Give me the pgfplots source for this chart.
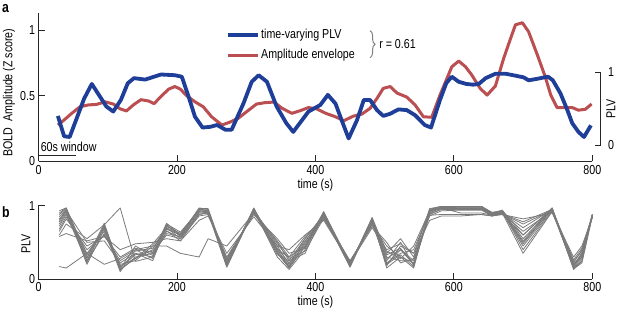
\documentclass[border=0pt]{standalone}
\usepackage{pgfplots}
\pgfplotsset{compat=1.18}
\usepackage{pgfplotstable}
\usepackage{fontspec}
\setmainfont{Liberation Sans}[FakeStretch=0.82]
\usetikzlibrary{decorations.pathreplacing}
\definecolor{plvblue}{RGB}{30,62,152}
\definecolor{ampred}{RGB}{186,78,80}
\definecolor{tracegray}{RGB}{122,122,122}
\newcommand{\ff}{\fontsize{13bp}{15bp}\selectfont}

\pgfplotstableread{
t   l1   l2   l3   l4   l5   l6   l7   l8   l9   l10  l11  l12  l13  l14
30  0.93 0.88 0.85 0.80 0.78 0.75 0.72 0.68 0.65 0.58 0.60 0.17 0.82 0.90
40  0.97 0.96 0.95 0.94 0.92 0.90 0.88 0.85 0.82 0.62 0.75 0.15 0.93 0.97
70  0.22 0.25 0.30 0.20 0.35 0.28 0.24 0.40 0.45 0.52 0.55 0.35 0.50 0.33
95  0.74 0.72 0.70 0.68 0.65 0.76 0.62 0.60 0.58 0.58 0.74 0.20 0.52 0.70
118 0.12 0.15 0.18 0.10 0.20 0.14 0.16 0.25 0.30 0.40 0.97 0.28 0.22 0.13
140 0.30 0.35 0.28 0.40 0.25 0.45 0.33 0.38 0.42 0.48 0.24 0.40 0.35 0.28
165 0.35 0.30 0.40 0.28 0.45 0.32 0.38 0.42 0.36 0.50 0.30 0.45 0.25 0.48
185 0.76 0.74 0.72 0.70 0.68 0.75 0.62 0.66 0.60 0.55 0.65 0.45 0.72 0.70
205 0.60 0.58 0.62 0.55 0.60 0.64 0.58 0.52 0.55 0.52 0.57 0.35 0.62 0.60
232 0.97 0.95 0.93 0.90 0.96 0.94 0.91 0.88 0.86 0.80 0.88 0.30 0.92 0.95
245 0.95 0.93 0.92 0.90 0.96 0.94 0.93 0.91 0.88 0.86 0.90 0.55 0.90 0.94
272 0.18 0.20 0.22 0.16 0.25 0.19 0.21 0.28 0.30 0.35 0.26 0.45 0.23 0.17
311 0.97 0.96 0.95 0.94 0.93 0.96 0.92 0.90 0.88 0.85 0.91 0.90 0.94 0.95
345 0.35 0.40 0.45 0.30 0.50 0.38 0.42 0.52 0.55 0.45 0.48 0.40 0.33 0.36
362 0.15 0.18 0.20 0.13 0.25 0.17 0.22 0.30 0.35 0.40 0.28 0.30 0.25 0.16
385 0.45 0.50 0.55 0.40 0.35 0.48 0.52 0.58 0.42 0.60 0.38 0.45 0.55 0.44
412 0.92 0.90 0.88 0.91 0.89 0.86 0.84 0.82 0.85 0.80 0.83 0.86 0.87 0.90
450 0.18 0.20 0.17 0.22 0.19 0.21 0.20 0.24 0.25 0.22 0.23 0.18 0.16 0.19
482 0.83 0.80 0.82 0.78 0.84 0.79 0.76 0.74 0.72 0.70 0.77 0.80 0.81 0.82
503 0.15 0.20 0.25 0.30 0.35 0.18 0.22 0.45 0.50 0.40 0.28 0.33 0.38 0.20
523 0.30 0.40 0.50 0.25 0.55 0.45 0.35 0.30 0.22 0.48 0.40 0.42 0.28 0.33
542 0.15 0.20 0.18 0.25 0.30 0.35 0.40 0.22 0.28 0.35 0.25 0.20 0.45 0.17
565 0.95 0.93 0.92 0.90 0.96 0.94 0.91 0.88 0.86 0.80 0.89 0.87 0.93 0.94
582 0.99 0.98 0.97 0.98 0.99 0.97 0.96 0.95 0.93 0.86 0.95 0.88 0.97 0.99
610 0.99 0.98 0.97 0.96 0.99 0.98 0.96 0.95 0.94 0.86 0.95 0.88 0.90 0.99
640 0.99 0.98 0.97 0.96 0.99 0.98 0.96 0.95 0.94 0.88 0.95 0.88 0.90 0.99
655 0.90 0.89 0.88 0.88 0.91 0.89 0.88 0.87 0.86 0.86 0.87 0.86 0.87 0.90
670 0.94 0.93 0.92 0.91 0.93 0.90 0.91 0.90 0.89 0.88 0.90 0.89 0.88 0.92
700 0.60 0.55 0.50 0.45 0.40 0.35 0.48 0.70 0.75 0.82 0.65 0.78 0.60 0.52
742 0.97 0.96 0.95 0.94 0.93 0.92 0.96 0.95 0.94 0.90 0.93 0.95 0.96 0.97
773 0.15 0.18 0.20 0.14 0.22 0.16 0.19 0.24 0.26 0.30 0.20 0.18 0.17 0.13
785 0.25 0.30 0.32 0.22 0.40 0.28 0.35 0.38 0.42 0.45 0.33 0.30 0.36 0.24
800 0.88 0.87 0.86 0.85 0.88 0.87 0.86 0.85 0.84 0.84 0.86 0.87 0.88 0.88
}\plvtab

\pgfplotsset{
  myax/.style={
    scale only axis, width=553.8bp,
    xmin=0, xmax=800,
    axis lines*=left,
    axis line style={-, line width=0.9bp, black!85},
    tick align=inside, major tick length=6bp,
    tick style={line width=0.9bp, black!85},
    xtick={0,200,400,600,800},
    /pgf/number format/assume math mode=true,
    font=\ff, ticklabel style={font=\ff},
    label style={font=\ff},
    clip=false,
  }
}

\begin{document}
\begin{tikzpicture}
% ---------- panel a, left scale (BOLD amplitude) ----------
\begin{axis}[myax, at={(38.5bp,-161.4bp)}, anchor=south west,
  height=148.4bp, ymin=0, ymax=1.13,
  ytick={0,0.5,1}, yticklabels={0,0.5,1},
  xlabel={time (s)},
  xlabel style={at={(axis description cs:0.5,-0.159)}, anchor=center},
  ylabel={BOLD\ \ Amplitude (Z score)},
  ylabel style={at={(axis description cs:-0.0533,0.4643)}, anchor=center}]
\addplot[ampred, line width=3bp, line join=round] coordinates {
(28,0.277)(38,0.32)(48,0.366)(60,0.416)(72,0.43)(84,0.434)(96,0.454)(108,0.437)
(118,0.40)(127,0.384)(137,0.43)(148,0.47)(159,0.46)(167,0.44)(178,0.50)(188,0.55)
(197,0.57)(205,0.55)(214,0.50)(226,0.454)(238,0.416)(250,0.34)(265,0.277)(277,0.30)
(289,0.33)(301,0.38)(315,0.437)(327,0.447)(340,0.452)(352,0.404)(366,0.366)(378,0.386)
(390,0.41)(402,0.40)(415,0.366)(429,0.34)(441,0.31)(455,0.345)(467,0.36)(479,0.404)
(489,0.48)(498,0.556)(508,0.57)(518,0.52)(532,0.49)(544,0.43)(556,0.34)(568,0.336)
(580,0.505)(597,0.72)(607,0.764)(617,0.72)(626,0.657)(638,0.556)(648,0.505)(660,0.574)
(672,0.785)(682,0.937)(689,1.04)(699,1.056)(708,0.987)(720,0.82)(732,0.645)(740,0.505)
(749,0.41)(761,0.41)(771,0.41)(780,0.39)(790,0.397)(799,0.437)};
\draw[line width=0.9bp, black!85] (axis cs:0,0.049) -- (axis cs:54,0.049);
\node[anchor=west, inner sep=0pt, font=\ff] at (axis cs:3,0.113) {60s window};
\draw[gray, line width=1bp, decorate, decoration={brace, amplitude=5bp}]
  (axis cs:479,0.995) -- (axis cs:479,0.79);
\node[anchor=west, inner sep=0pt, font=\ff] at (axis cs:492,0.893) {r = 0.61};
\end{axis}
% ---------- panel a, right scale (PLV) ----------
\begin{axis}[scale only axis, width=553.8bp, height=148.4bp,
  at={(38.5bp,-161.4bp)}, anchor=south west,
  xmin=0, xmax=800, ymin=-0.2256, ymax=1.816,
  hide axis, clip=false,
  legend cell align=left,
  legend image code/.code={\draw[#1] (0bp,0bp) -- (30bp,0bp);},
  legend style={at={(axis description cs:0.3386,0.90)}, anchor=north west,
    draw=none, fill=none, font=\ff, inner sep=0pt, row sep=7bp,
    nodes={inner sep=1.2bp}}]
\addplot[plvblue, line width=3.8bp, line join=round] coordinates {
(28,0.40)(37,0.12)(45,0.11)(66,0.64)(77,0.84)(98,0.53)(108,0.46)(119,0.62)(129,0.85)
(138,0.92)(154,0.90)(177,0.97)(197,0.96)(207,0.94)(217,0.66)(226,0.39)(237,0.24)
(248,0.25)(258,0.275)(270,0.21)(279,0.21)(296,0.57)(308,0.87)(318,0.96)(330,0.87)
(344,0.53)(358,0.30)(368,0.18)(390,0.46)(407,0.55)(418,0.69)(429,0.57)(438,0.34)
(448,0.09)(460,0.34)(470,0.62)(479,0.62)(489,0.48)(498,0.40)(508,0.43)(520,0.49)
(532,0.48)(544,0.41)(558,0.275)(567,0.24)(580,0.62)(589,0.85)(597,0.94)(607,0.87)
(618,0.84)(628,0.83)(636,0.84)(646,0.92)(660,0.98)(675,0.98)(691,0.95)(701,0.93)
(708,0.89)(720,0.91)(736,0.94)(743,0.89)(754,0.71)(764,0.48)(771,0.30)(780,0.18)
(788,0.11)(798,0.27)};
\addlegendentry{time-varying PLV}
\addlegendimage{ampred, line width=3bp}
\addlegendentry{Amplitude envelope}
\draw[line width=0.9bp, black!85] (axis cs:804,1) -- (axis cs:812,1) -- (axis cs:812,0) -- (axis cs:804,0);
\node[font=\ff, inner sep=0pt] at (axis cs:827,1) {1};
\node[font=\ff, inner sep=0pt] at (axis cs:827,0) {0};
\node[font=\ff, inner sep=0pt, rotate=90] at (axis cs:827,0.5) {PLV};
\end{axis}
% ---------- panel b ----------
\begin{axis}[myax, at={(38.5bp,-279bp)}, anchor=south west,
  height=73.3bp, ymin=0, ymax=1, ytick={0,1},
  xlabel={time (s)},
  xlabel style={at={(axis description cs:0.5,-0.314)}, anchor=center},
  ylabel={PLV},
  ylabel style={at={(axis description cs:-0.0226,0.477)}, anchor=center}]
\pgfplotsinvokeforeach{1,...,14}{
  \addplot[tracegray, line width=0.8bp, line join=round] table[x=t, y=l#1] {\plvtab};
}
\end{axis}
\node[anchor=north west, inner sep=0pt, font=\fontsize{15bp}{17bp}\selectfont\bfseries] at (2bp,-4bp) {a};
\node[anchor=north west, inner sep=0pt, font=\fontsize{15bp}{17bp}\selectfont\bfseries] at (2bp,-206bp) {b};
\pgfresetboundingbox
\useasboundingbox (0bp,0bp) rectangle (617bp,-310bp);
\end{tikzpicture}
\end{document}
